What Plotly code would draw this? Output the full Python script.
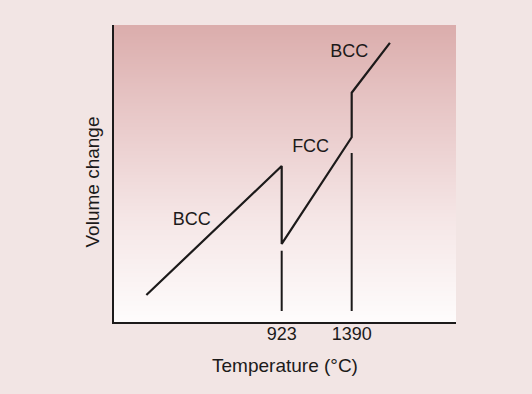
import plotly.graph_objects as go

# Data (schematic: temperature in °C, volume change in arbitrary units)
curve_temp = [20, 923, 923, 1390, 1390, 1645]
curve_vol = [9.1, 52.5, 26.3, 62.2, 77.2, 94.0]

drop_temp = [923, 923, None, 1390, 1390]
drop_vol = [24.0, 3.7, None, 56.9, 3.7]

phase_labels = ["BCC", "FCC", "BCC"]
phase_temp = [323, 1116, 1374]
phase_vol = [34.3, 58.8, 90.7]

tick_vals = [923, 1390]
tick_text = ["923", "1390"]

x_range = [-196, 2086]
y_range = [0, 100]

FONT = "Liberation Sans, Arial, sans-serif"
INK = "#1c1a1a"
PAPER = "#f2e5e4"

fig = go.Figure()

# vertical gradient background of plot area
grad_y = [y_range[0] + i * (y_range[1] - y_range[0]) / 60 for i in range(61)]
fig.add_trace(go.Heatmap(
    x=x_range, y=grad_y,
    z=[[v, v] for v in grad_y],
    colorscale=[[0, "#fefcfc"], [0.35, "#f5e6e6"], [0.7, "#e8c8c8"], [1, "#dbadac"]],
    showscale=False, hoverinfo="skip", zsmooth="best",
))

fig.add_trace(go.Scatter(
    x=drop_temp, y=drop_vol, mode="lines",
    line=dict(color=INK, width=2), hoverinfo="skip", showlegend=False,
))
fig.add_trace(go.Scatter(
    x=curve_temp, y=curve_vol, mode="lines",
    line=dict(color=INK, width=2.2), showlegend=False,
))
fig.add_trace(go.Scatter(
    x=phase_temp, y=phase_vol, mode="text", text=phase_labels,
    textfont=dict(family=FONT, size=18, color=INK),
    textposition="middle center", showlegend=False, hoverinfo="skip",
))

fig.update_layout(
    width=532, height=394,
    margin=dict(l=114, r=76, t=25, b=72),
    paper_bgcolor=PAPER,
    plot_bgcolor=PAPER,
    font=dict(family=FONT, size=18, color=INK),
    xaxis=dict(
        range=x_range, showgrid=False, zeroline=False,
        showline=True, linecolor=INK, linewidth=2,
        tickvals=tick_vals, ticktext=tick_text, ticks="",
        ticklabelstandoff=-6,
        tickfont=dict(size=18, color=INK),
        title=dict(text="Temperature (°C)", font=dict(size=19, color=INK), standoff=16),
    ),
    yaxis=dict(
        range=y_range, showgrid=False, zeroline=False,
        showline=True, linecolor=INK, linewidth=2,
        showticklabels=False, ticks="",
    ),
    annotations=[dict(
        text="Volume change", textangle=-90,
        xref="paper", yref="paper", x=-0.064, y=0.47,
        xanchor="center", yanchor="middle", showarrow=False,
        font=dict(family=FONT, size=19, color=INK),
    )],
)

fig.write_html(
    "out.html",
    config={"displayModeBar": False},
    post_script=f"document.body.style.margin='0';document.body.style.background='{PAPER}';",
)
